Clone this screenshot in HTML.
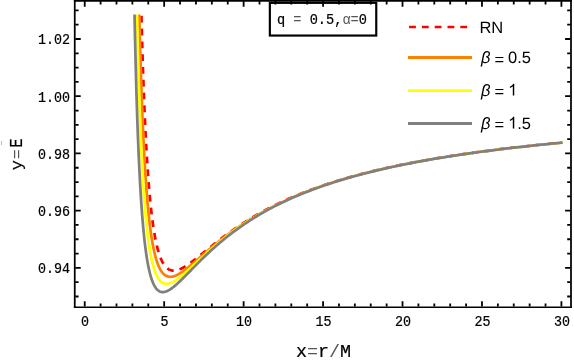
<!DOCTYPE html>
<html><head><meta charset="utf-8"><title>plot</title>
<style>
html,body{margin:0;padding:0;background:#fff;}
body{width:574px;height:360px;overflow:hidden;}
svg{display:block;will-change:transform;}
.m{font-family:"Liberation Mono",monospace;font-size:14.6px;fill:#000;stroke:#000;stroke-width:0.22px;}
.s{font-family:"Liberation Sans",sans-serif;font-size:16.5px;fill:#000;text-rendering:geometricPrecision;}
.a{font-family:"Liberation Mono",monospace;font-size:18.4px;fill:#000;stroke:#000;stroke-width:0.2px;}
.g{fill:#555;stroke:none;}
</style></head><body>
<svg width="574" height="360" viewBox="0 0 574 360">
<rect width="574" height="360" fill="#fff"/>
<path d="M141.39 14.55 L141.42 15.83 L141.45 17.06 L141.48 18.28 L141.51 19.50 L141.54 20.71 L141.58 21.92 L141.61 23.11 L141.64 24.30 L141.67 25.49 L141.70 26.66 L141.73 27.83 L141.76 29.00 L141.79 30.16 L141.82 31.31 L141.86 32.45 L141.89 33.59 L141.92 34.72 L141.95 35.85 L141.98 36.97 L142.01 38.08 L142.04 39.19 L142.07 40.29 L142.11 41.39 L142.14 42.48 L142.17 43.56 L142.20 44.64 L142.23 45.71 L142.26 46.78 L142.29 47.84 L142.32 48.89 L142.35 49.94 L142.39 50.98 L142.42 52.02 L142.45 53.05 L142.48 54.08 L142.51 55.10 L142.54 56.12 L142.57 57.13 L142.60 58.13 L142.64 59.13 L142.67 60.13 L142.70 61.11 L142.73 62.10 L142.76 63.08 L142.79 64.05 L142.82 65.02 L142.85 65.98 L142.89 66.94 L142.92 67.89 L142.95 68.84 L142.98 69.78 L143.01 70.72 L143.04 71.65 L143.07 72.58 L143.10 73.51 L143.13 74.42 L143.17 75.34 L143.20 76.25 L143.23 77.15 L143.26 78.05 L143.29 78.95 L143.32 79.84 L143.35 80.72 L143.38 81.60 L143.42 82.48 L143.45 83.35 L143.48 84.22 L143.51 85.08 L143.54 85.94 L143.57 86.80 L143.60 87.65 L143.63 88.49 L143.66 89.34 L143.70 90.17 L143.73 91.01 L143.76 91.83 L143.79 92.66 L143.82 93.48 L143.85 94.30 L143.88 95.11 L143.91 95.92 L143.95 96.72 L143.98 97.52 L144.01 98.32 L144.04 99.11 L144.07 99.90 L144.10 100.68 L144.13 101.46 L144.16 102.24 L144.19 103.01 L144.23 103.78 L144.26 104.54 L144.29 105.30 L144.32 106.06 L144.35 106.81 L144.38 107.56 L144.41 108.31 L144.44 109.05 L144.48 109.79 L144.51 110.53 L144.54 111.26 L144.57 111.99 L144.60 112.71 L144.63 113.43 L144.66 114.15 L144.69 114.86 L144.72 115.57 L144.76 116.28 L144.79 116.98 L144.82 117.68 L144.88 119.07 L144.94 120.45 L145.01 121.81 L145.07 123.16 L145.13 124.50 L145.19 125.82 L145.25 127.13 L145.32 128.43 L145.38 129.72 L145.44 130.99 L145.50 132.25 L145.57 133.50 L145.63 134.74 L145.69 135.97 L145.75 137.18 L145.82 138.39 L145.88 139.58 L145.94 140.76 L146.00 141.93 L146.07 143.09 L146.13 144.24 L146.19 145.37 L146.25 146.50 L146.31 147.62 L146.38 148.72 L146.44 149.82 L146.50 150.91 L146.56 151.98 L146.63 153.05 L146.69 154.10 L146.75 155.15 L146.81 156.19 L146.88 157.21 L146.94 158.23 L147.00 159.24 L147.06 160.24 L147.13 161.23 L147.19 162.21 L147.25 163.19 L147.31 164.15 L147.38 165.11 L147.44 166.05 L147.50 166.99 L147.56 167.92 L147.62 168.84 L147.69 169.76 L147.75 170.66 L147.81 171.56 L147.87 172.45 L147.94 173.33 L148.00 174.20 L148.06 175.07 L148.12 175.93 L148.19 176.78 L148.25 177.62 L148.31 178.45 L148.37 179.28 L148.44 180.10 L148.50 180.92 L148.56 181.72 L148.62 182.52 L148.68 183.32 L148.75 184.10 L148.81 184.88 L148.87 185.65 L148.93 186.42 L149.00 187.17 L149.06 187.93 L149.12 188.67 L149.18 189.41 L149.25 190.14 L149.31 190.87 L149.37 191.59 L149.43 192.30 L149.50 193.01 L149.56 193.71 L149.65 194.75 L149.74 195.78 L149.84 196.79 L149.93 197.80 L150.03 198.78 L150.12 199.76 L150.21 200.72 L150.31 201.67 L150.40 202.61 L150.49 203.54 L150.59 204.46 L150.68 205.36 L150.77 206.25 L150.87 207.13 L150.96 208.00 L151.05 208.86 L151.15 209.71 L151.24 210.55 L151.34 211.37 L151.43 212.19 L151.52 213.00 L151.62 213.79 L151.71 214.58 L151.80 215.35 L151.90 216.12 L151.99 216.88 L152.08 217.62 L152.18 218.36 L152.27 219.09 L152.36 219.81 L152.46 220.52 L152.55 221.22 L152.68 222.15 L152.80 223.05 L152.93 223.95 L153.05 224.82 L153.17 225.69 L153.30 226.54 L153.42 227.37 L153.55 228.19 L153.67 229.00 L153.80 229.79 L153.92 230.57 L154.05 231.34 L154.17 232.10 L154.30 232.84 L154.42 233.57 L154.55 234.29 L154.67 235.00 L154.80 235.69 L154.95 236.55 L155.11 237.38 L155.26 238.20 L155.42 239.00 L155.58 239.79 L155.73 240.56 L155.89 241.31 L156.04 242.05 L156.20 242.77 L156.36 243.48 L156.51 244.17 L156.70 244.98 L156.89 245.77 L157.07 246.55 L157.26 247.30 L157.45 248.04 L157.63 248.75 L157.82 249.45 L158.01 250.13 L158.23 250.90 L158.44 251.65 L158.66 252.38 L158.88 253.09 L159.10 253.77 L159.35 254.53 L159.60 255.26 L159.85 255.97 L160.10 256.65 L160.35 257.31 L160.63 258.02 L160.91 258.71 L161.19 259.36 L161.50 260.06 L161.81 260.73 L162.12 261.37 L162.47 262.04 L162.81 262.67 L163.18 263.32 L163.56 263.94 L163.96 264.56 L164.37 265.15 L164.81 265.73 L165.27 266.32 L165.74 266.85 L166.24 267.37 L166.77 267.87 L167.33 268.35 L167.89 268.77 L168.48 269.16 L169.11 269.51 L169.76 269.82 L170.42 270.07 L171.10 270.27 L171.79 270.43 L172.51 270.53 L173.22 270.58 L173.94 270.59 L174.66 270.54 L175.38 270.46 L176.09 270.34 L176.78 270.19 L177.46 270.01 L178.15 269.80 L178.84 269.56 L179.49 269.31 L180.15 269.04 L180.80 268.75 L181.46 268.44 L182.11 268.11 L182.73 267.79 L183.36 267.45 L183.98 267.09 L184.61 266.73 L185.23 266.35 L185.85 265.96 L186.44 265.59 L187.04 265.20 L187.63 264.81 L188.22 264.40 L188.81 264.00 L189.41 263.58 L190.00 263.16 L190.59 262.73 L191.18 262.30 L191.78 261.87 L192.37 261.43 L192.93 261.00 L193.49 260.58 L194.05 260.15 L194.61 259.72 L195.18 259.29 L195.74 258.85 L196.30 258.41 L196.86 257.97 L197.42 257.53 L197.98 257.08 L198.54 256.64 L199.10 256.19 L199.67 255.74 L200.23 255.29 L200.79 254.84 L201.35 254.39 L201.91 253.94 L202.47 253.49 L203.03 253.03 L203.59 252.58 L204.16 252.13 L204.72 251.67 L205.28 251.22 L205.84 250.77 L206.40 250.31 L206.96 249.86 L207.52 249.41 L208.08 248.96 L208.65 248.50 L209.21 248.05 L209.77 247.60 L210.33 247.15 L210.89 246.71 L211.45 246.26 L212.37 245.53 L213.07 244.97 L213.77 244.42 L214.47 243.86 L215.17 243.31 L215.87 242.76 L216.57 242.22 L217.27 241.67 L217.98 241.13 L218.68 240.59 L219.38 240.05 L220.08 239.51 L220.78 238.98 L221.48 238.45 L222.18 237.92 L222.88 237.39 L223.58 236.86 L224.28 236.34 L224.98 235.82 L225.68 235.30 L226.38 234.79 L227.08 234.28 L227.78 233.77 L228.48 233.26 L229.18 232.75 L229.88 232.25 L230.59 231.75 L231.29 231.25 L231.99 230.76 L232.69 230.27 L233.39 229.78 L234.09 229.29 L234.79 228.81 L235.49 228.33 L236.19 227.85 L236.89 227.37 L237.59 226.90 L238.29 226.43 L238.99 225.96 L239.69 225.49 L240.39 225.03 L241.09 224.57 L241.79 224.11 L242.49 223.65 L243.20 223.20 L243.90 222.75 L244.60 222.30 L245.30 221.86 L246.00 221.42 L246.70 220.98 L247.40 220.54 L248.10 220.10 L248.80 219.67 L249.50 219.24 L250.20 218.81 L250.90 218.39 L251.60 217.97 L252.30 217.55 L253.00 217.13 L253.70 216.72 L254.40 216.30 L255.10 215.89 L255.81 215.48 L256.51 215.08 L257.21 214.68 L257.91 214.28 L258.61 213.88 L259.31 213.48 L262.81 211.54 L267.01 209.28 L271.22 207.09 L275.42 204.99 L279.62 202.95 L283.83 200.99 L288.03 199.09 L292.23 197.25 L296.44 195.47 L300.64 193.75 L304.84 192.09 L309.05 190.48 L313.25 188.92 L317.45 187.40 L321.66 185.94 L325.86 184.52 L330.06 183.14 L334.27 181.80 L338.47 180.51 L342.67 179.24 L346.88 178.02 L351.08 176.83 L355.29 175.67 L359.49 174.55 L363.69 173.45 L367.90 172.39 L372.10 171.35 L376.30 170.34 L380.51 169.36 L384.71 168.40 L388.91 167.47 L393.12 166.56 L397.32 165.67 L401.52 164.81 L405.73 163.96 L409.93 163.14 L414.13 162.33 L418.34 161.54 L422.54 160.78 L426.74 160.03 L430.95 159.29 L435.15 158.58 L439.35 157.88 L443.56 157.19 L447.76 156.52 L451.96 155.86 L456.17 155.22 L460.37 154.59 L464.57 153.98 L468.78 153.37 L472.98 152.78 L477.18 152.21 L481.39 151.64 L485.59 151.08 L489.79 150.54 L494.00 150.00 L498.20 149.48 L502.40 148.97 L506.61 148.46 L510.81 147.97 L515.01 147.48 L519.22 147.01 L523.42 146.54 L527.62 146.08 L531.83 145.63 L536.03 145.19 L540.23 144.75 L544.44 144.32 L548.64 143.90 L552.84 143.49 L557.05 143.09 L561.25 142.69" fill="none" stroke="#ff0000" stroke-width="2.75" stroke-linejoin="round" stroke-dasharray="6.8 6" stroke-dashoffset="-1.3"/>
<path d="M139.28 14.55 L139.30 15.33 L139.33 16.65 L139.36 17.96 L139.39 19.26 L139.42 20.55 L139.46 21.84 L139.49 23.12 L139.52 24.39 L139.55 25.65 L139.58 26.91 L139.61 28.15 L139.64 29.40 L139.67 30.63 L139.70 31.86 L139.74 33.08 L139.77 34.29 L139.80 35.50 L139.83 36.70 L139.86 37.89 L139.89 39.07 L139.92 40.25 L139.95 41.42 L139.99 42.59 L140.02 43.75 L140.05 44.90 L140.08 46.05 L140.11 47.19 L140.14 48.32 L140.17 49.45 L140.20 50.57 L140.23 51.68 L140.27 52.79 L140.30 53.89 L140.33 54.98 L140.36 56.07 L140.39 57.16 L140.42 58.23 L140.45 59.30 L140.48 60.37 L140.52 61.43 L140.55 62.48 L140.58 63.53 L140.61 64.57 L140.64 65.61 L140.67 66.64 L140.70 67.66 L140.73 68.68 L140.76 69.69 L140.80 70.70 L140.83 71.70 L140.86 72.70 L140.89 73.69 L140.92 74.68 L140.95 75.66 L140.98 76.64 L141.01 77.61 L141.05 78.57 L141.08 79.53 L141.11 80.49 L141.14 81.43 L141.17 82.38 L141.20 83.32 L141.23 84.25 L141.26 85.18 L141.29 86.11 L141.33 87.03 L141.36 87.94 L141.39 88.85 L141.42 89.76 L141.45 90.66 L141.48 91.55 L141.51 92.44 L141.54 93.33 L141.58 94.21 L141.61 95.08 L141.64 95.96 L141.67 96.82 L141.70 97.69 L141.73 98.54 L141.76 99.40 L141.79 100.25 L141.82 101.09 L141.86 101.93 L141.89 102.77 L141.92 103.60 L141.95 104.43 L141.98 105.25 L142.01 106.07 L142.04 106.88 L142.07 107.70 L142.11 108.50 L142.14 109.30 L142.17 110.10 L142.20 110.90 L142.23 111.68 L142.26 112.47 L142.29 113.25 L142.32 114.03 L142.35 114.80 L142.39 115.57 L142.42 116.34 L142.45 117.10 L142.48 117.86 L142.51 118.61 L142.54 119.36 L142.57 120.11 L142.60 120.85 L142.64 121.59 L142.67 122.33 L142.70 123.06 L142.73 123.79 L142.76 124.51 L142.79 125.23 L142.82 125.95 L142.85 126.66 L142.89 127.37 L142.92 128.08 L142.95 128.78 L143.01 130.18 L143.07 131.56 L143.13 132.92 L143.20 134.28 L143.26 135.62 L143.32 136.94 L143.38 138.26 L143.45 139.56 L143.51 140.85 L143.57 142.12 L143.63 143.39 L143.70 144.64 L143.76 145.88 L143.82 147.10 L143.88 148.32 L143.95 149.52 L144.01 150.71 L144.07 151.89 L144.13 153.06 L144.19 154.22 L144.26 155.37 L144.32 156.50 L144.38 157.63 L144.44 158.74 L144.51 159.84 L144.57 160.94 L144.63 162.02 L144.69 163.09 L144.76 164.15 L144.82 165.21 L144.88 166.25 L144.94 167.28 L145.01 168.30 L145.07 169.32 L145.13 170.32 L145.19 171.31 L145.25 172.30 L145.32 173.27 L145.38 174.24 L145.44 175.20 L145.50 176.15 L145.57 177.09 L145.63 178.02 L145.69 178.94 L145.75 179.86 L145.82 180.76 L145.88 181.66 L145.94 182.55 L146.00 183.43 L146.07 184.30 L146.13 185.17 L146.19 186.03 L146.25 186.88 L146.31 187.72 L146.38 188.55 L146.44 189.38 L146.50 190.20 L146.56 191.01 L146.63 191.81 L146.69 192.61 L146.75 193.40 L146.81 194.18 L146.88 194.96 L146.94 195.73 L147.00 196.49 L147.06 197.24 L147.13 197.99 L147.19 198.73 L147.25 199.47 L147.31 200.20 L147.38 200.92 L147.44 201.63 L147.50 202.34 L147.56 203.05 L147.66 204.09 L147.75 205.12 L147.84 206.13 L147.94 207.13 L148.03 208.12 L148.12 209.10 L148.22 210.06 L148.31 211.01 L148.40 211.94 L148.50 212.87 L148.59 213.78 L148.68 214.68 L148.78 215.57 L148.87 216.45 L148.97 217.31 L149.06 218.17 L149.15 219.01 L149.25 219.84 L149.34 220.67 L149.43 221.48 L149.53 222.28 L149.62 223.07 L149.71 223.85 L149.81 224.62 L149.90 225.38 L149.99 226.13 L150.09 226.87 L150.18 227.60 L150.27 228.32 L150.37 229.03 L150.46 229.73 L150.59 230.65 L150.71 231.56 L150.84 232.45 L150.96 233.33 L151.09 234.19 L151.21 235.03 L151.34 235.87 L151.46 236.68 L151.58 237.49 L151.71 238.28 L151.83 239.05 L151.96 239.82 L152.08 240.57 L152.21 241.30 L152.33 242.03 L152.46 242.74 L152.58 243.44 L152.74 244.30 L152.89 245.14 L153.05 245.96 L153.21 246.76 L153.36 247.55 L153.52 248.32 L153.67 249.07 L153.83 249.81 L153.99 250.53 L154.14 251.24 L154.30 251.93 L154.48 252.74 L154.67 253.52 L154.86 254.29 L155.05 255.04 L155.23 255.77 L155.42 256.48 L155.61 257.17 L155.83 257.95 L156.04 258.71 L156.26 259.44 L156.48 260.15 L156.70 260.84 L156.92 261.51 L157.17 262.25 L157.42 262.96 L157.66 263.64 L157.91 264.30 L158.19 265.02 L158.48 265.70 L158.76 266.36 L159.07 267.05 L159.38 267.71 L159.69 268.34 L160.03 269.00 L160.38 269.62 L160.75 270.26 L161.13 270.86 L161.53 271.47 L161.97 272.07 L162.40 272.63 L162.87 273.18 L163.37 273.71 L163.90 274.22 L164.46 274.70 L165.02 275.12 L165.62 275.51 L166.24 275.85 L166.89 276.15 L167.58 276.39 L168.27 276.57 L168.98 276.70 L169.70 276.77 L170.42 276.78 L171.13 276.75 L171.85 276.66 L172.57 276.54 L173.26 276.38 L173.94 276.18 L174.63 275.96 L175.31 275.70 L175.97 275.43 L176.62 275.14 L177.28 274.82 L177.90 274.50 L178.52 274.17 L179.15 273.81 L179.77 273.45 L180.40 273.06 L180.99 272.69 L181.58 272.30 L182.17 271.90 L182.77 271.49 L183.36 271.08 L183.95 270.65 L184.54 270.22 L185.14 269.78 L185.70 269.35 L186.26 268.92 L186.82 268.49 L187.38 268.04 L187.94 267.60 L188.50 267.15 L189.06 266.70 L189.63 266.24 L190.19 265.78 L190.75 265.31 L191.31 264.85 L191.87 264.38 L192.43 263.90 L192.99 263.43 L193.55 262.95 L194.12 262.48 L194.68 262.00 L195.24 261.52 L195.80 261.03 L196.36 260.55 L196.89 260.09 L197.42 259.63 L197.95 259.18 L198.48 258.72 L199.01 258.26 L199.54 257.80 L200.07 257.34 L200.60 256.88 L201.13 256.42 L201.66 255.96 L202.19 255.50 L202.72 255.04 L203.25 254.59 L203.78 254.13 L204.34 253.64 L204.90 253.16 L205.47 252.68 L206.03 252.20 L206.59 251.72 L207.15 251.24 L207.71 250.76 L208.27 250.28 L208.83 249.80 L209.39 249.33 L209.96 248.85 L210.52 248.38 L211.08 247.91 L211.64 247.44 L212.37 246.83 L213.08 246.24 L213.78 245.66 L214.48 245.08 L215.19 244.50 L215.89 243.93 L216.59 243.35 L217.30 242.78 L218.00 242.22 L218.70 241.65 L219.41 241.09 L220.11 240.53 L220.81 239.98 L221.52 239.42 L222.22 238.87 L222.92 238.32 L223.63 237.78 L224.33 237.24 L225.03 236.70 L225.74 236.16 L226.44 235.63 L227.14 235.10 L227.85 234.57 L228.55 234.05 L229.25 233.52 L229.95 233.01 L230.66 232.49 L231.36 231.98 L232.06 231.47 L232.77 230.96 L233.47 230.46 L234.17 229.96 L234.88 229.46 L235.58 228.96 L236.28 228.47 L236.99 227.98 L237.69 227.50 L238.39 227.01 L239.10 226.53 L239.80 226.05 L240.50 225.58 L241.21 225.11 L241.91 224.64 L242.61 224.17 L243.32 223.71 L244.02 223.25 L244.72 222.79 L245.43 222.34 L246.13 221.88 L246.83 221.43 L247.54 220.99 L248.24 220.54 L248.94 220.10 L249.65 219.66 L250.35 219.23 L251.05 218.79" fill="none" stroke="#ff8000" stroke-width="2.75" stroke-linejoin="round"/>
<path d="M248.94 220.10 L249.65 219.66 L250.35 219.23 L251.05 218.79 L251.76 218.36 L252.46 217.93 L253.16 217.51 L253.87 217.09 L254.57 216.67 L255.27 216.25 L255.98 215.83 L256.68 215.42 L257.38 215.01 L258.09 214.60 L258.79 214.20 L259.49 213.79 L263.01 211.82 L266.52 209.90 L270.74 207.67 L274.96 205.52 L279.18 203.45 L283.40 201.45 L287.62 199.52 L291.84 197.65 L296.06 195.84 L300.28 194.10 L304.50 192.41 L308.72 190.78 L312.94 189.20 L317.16 187.67 L321.38 186.18 L325.60 184.75 L329.82 183.35 L334.04 182.00 L338.26 180.69 L342.48 179.41 L346.70 178.18 L350.92 176.98 L355.14 175.81 L359.36 174.67 L363.58 173.57 L367.80 172.50 L372.02 171.45 L376.23 170.43 L380.45 169.44 L384.67 168.48 L388.89 167.54 L393.11 166.62 L397.33 165.73 L401.55 164.86 L405.77 164.01 L409.99 163.18 L414.21 162.37 L418.43 161.58 L422.65 160.80 L426.87 160.05 L431.09 159.31 L435.31 158.59 L439.53 157.89 L443.75 157.20 L447.97 156.52 L452.19 155.86 L456.41 155.22 L460.63 154.59 L464.85 153.97 L469.07 153.36 L473.29 152.77 L477.51 152.19 L481.72 151.62 L485.94 151.06 L490.16 150.52 L494.38 149.98 L498.60 149.45 L502.82 148.94 L507.04 148.43 L511.26 147.94 L515.48 147.45 L519.70 146.97 L523.92 146.50 L528.14 146.04 L532.36 145.59 L536.58 145.15 L540.80 144.71 L545.02 144.28 L549.24 143.86 L553.46 143.45 L557.68 143.04 L561.90 142.64 L562.60 142.58" fill="none" stroke="#ff8000" stroke-width="2.3" stroke-linejoin="round"/>
<path d="M137.01 14.55 L137.05 16.42 L137.09 17.82 L137.12 19.22 L137.15 20.61 L137.18 21.99 L137.21 23.37 L137.24 24.73 L137.27 26.09 L137.30 27.43 L137.33 28.77 L137.37 30.10 L137.40 31.43 L137.43 32.74 L137.46 34.05 L137.49 35.35 L137.52 36.64 L137.55 37.92 L137.58 39.20 L137.62 40.47 L137.65 41.73 L137.68 42.98 L137.71 44.23 L137.74 45.47 L137.77 46.70 L137.80 47.92 L137.83 49.14 L137.86 50.35 L137.90 51.55 L137.93 52.75 L137.96 53.94 L137.99 55.12 L138.02 56.29 L138.05 57.46 L138.08 58.62 L138.11 59.78 L138.15 60.92 L138.18 62.06 L138.21 63.20 L138.24 64.33 L138.27 65.45 L138.30 66.56 L138.33 67.67 L138.36 68.77 L138.40 69.87 L138.43 70.96 L138.46 72.04 L138.49 73.12 L138.52 74.19 L138.55 75.25 L138.58 76.31 L138.61 77.36 L138.64 78.41 L138.68 79.45 L138.71 80.48 L138.74 81.51 L138.77 82.54 L138.80 83.55 L138.83 84.57 L138.86 85.57 L138.89 86.57 L138.93 87.57 L138.96 88.56 L138.99 89.54 L139.02 90.52 L139.05 91.49 L139.08 92.46 L139.11 93.42 L139.14 94.38 L139.17 95.33 L139.21 96.28 L139.24 97.22 L139.27 98.15 L139.30 99.08 L139.33 100.01 L139.36 100.93 L139.39 101.84 L139.42 102.76 L139.46 103.66 L139.49 104.56 L139.52 105.46 L139.55 106.35 L139.58 107.23 L139.61 108.11 L139.64 108.99 L139.67 109.86 L139.70 110.73 L139.74 111.59 L139.77 112.45 L139.80 113.30 L139.83 114.15 L139.86 114.99 L139.89 115.83 L139.92 116.67 L139.95 117.50 L139.99 118.33 L140.02 119.15 L140.05 119.96 L140.08 120.78 L140.11 121.59 L140.14 122.39 L140.17 123.19 L140.20 123.98 L140.23 124.78 L140.27 125.56 L140.30 126.35 L140.33 127.13 L140.36 127.90 L140.39 128.67 L140.42 129.44 L140.45 130.20 L140.48 130.96 L140.52 131.71 L140.55 132.47 L140.58 133.21 L140.61 133.96 L140.64 134.69 L140.67 135.43 L140.70 136.16 L140.73 136.89 L140.76 137.61 L140.80 138.33 L140.83 139.05 L140.86 139.76 L140.89 140.47 L140.92 141.18 L140.95 141.88 L141.01 143.27 L141.08 144.65 L141.14 146.01 L141.20 147.37 L141.26 148.70 L141.33 150.03 L141.39 151.34 L141.45 152.63 L141.51 153.92 L141.58 155.19 L141.64 156.44 L141.70 157.69 L141.76 158.92 L141.82 160.14 L141.89 161.35 L141.95 162.55 L142.01 163.73 L142.07 164.90 L142.14 166.06 L142.20 167.21 L142.26 168.35 L142.32 169.48 L142.39 170.59 L142.45 171.70 L142.51 172.79 L142.57 173.88 L142.64 174.95 L142.70 176.01 L142.76 177.06 L142.82 178.10 L142.89 179.14 L142.95 180.16 L143.01 181.17 L143.07 182.17 L143.13 183.16 L143.20 184.15 L143.26 185.12 L143.32 186.08 L143.38 187.04 L143.45 187.98 L143.51 188.92 L143.57 189.85 L143.63 190.77 L143.70 191.68 L143.76 192.58 L143.82 193.47 L143.88 194.35 L143.95 195.23 L144.01 196.10 L144.07 196.96 L144.13 197.81 L144.19 198.65 L144.26 199.49 L144.32 200.32 L144.38 201.14 L144.44 201.95 L144.51 202.75 L144.57 203.55 L144.63 204.34 L144.69 205.12 L144.76 205.90 L144.82 206.66 L144.88 207.42 L144.94 208.18 L145.01 208.92 L145.07 209.66 L145.13 210.40 L145.19 211.12 L145.25 211.84 L145.32 212.55 L145.38 213.26 L145.44 213.96 L145.54 215.00 L145.63 216.02 L145.72 217.03 L145.82 218.02 L145.91 219.01 L146.00 219.97 L146.10 220.93 L146.19 221.87 L146.28 222.80 L146.38 223.71 L146.47 224.62 L146.56 225.51 L146.66 226.39 L146.75 227.26 L146.85 228.11 L146.94 228.96 L147.03 229.79 L147.13 230.61 L147.22 231.42 L147.31 232.22 L147.41 233.01 L147.50 233.79 L147.59 234.55 L147.69 235.31 L147.78 236.06 L147.87 236.79 L147.97 237.52 L148.06 238.24 L148.15 238.94 L148.25 239.64 L148.37 240.56 L148.50 241.46 L148.62 242.34 L148.75 243.21 L148.87 244.06 L149.00 244.90 L149.12 245.72 L149.25 246.53 L149.37 247.32 L149.50 248.10 L149.62 248.86 L149.74 249.61 L149.87 250.35 L149.99 251.08 L150.12 251.79 L150.24 252.49 L150.40 253.34 L150.56 254.18 L150.71 255.00 L150.87 255.80 L151.02 256.58 L151.18 257.34 L151.34 258.09 L151.49 258.82 L151.65 259.53 L151.80 260.23 L151.99 261.05 L152.18 261.84 L152.36 262.61 L152.55 263.36 L152.74 264.09 L152.93 264.80 L153.11 265.49 L153.33 266.28 L153.55 267.03 L153.77 267.76 L153.99 268.47 L154.20 269.16 L154.45 269.91 L154.70 270.64 L154.95 271.33 L155.20 272.00 L155.48 272.73 L155.76 273.42 L156.04 274.08 L156.36 274.78 L156.67 275.44 L156.98 276.07 L157.32 276.73 L157.66 277.34 L158.04 277.97 L158.44 278.61 L158.85 279.20 L159.29 279.78 L159.75 280.36 L160.25 280.91 L160.75 281.40 L161.28 281.87 L161.84 282.30 L162.44 282.69 L163.06 283.03 L163.71 283.32 L164.40 283.55 L165.09 283.72 L165.80 283.82 L166.52 283.86 L167.24 283.84 L167.95 283.77 L168.67 283.65 L169.36 283.49 L170.04 283.28 L170.73 283.05 L171.38 282.79 L172.04 282.50 L172.69 282.19 L173.32 281.87 L173.94 281.52 L174.56 281.16 L175.19 280.78 L175.78 280.40 L176.37 280.01 L176.97 279.60 L177.56 279.18 L178.15 278.75 L178.71 278.33 L179.27 277.90 L179.83 277.47 L180.40 277.02 L180.96 276.57 L181.52 276.11 L182.08 275.65 L182.64 275.17 L183.20 274.70 L183.76 274.21 L184.29 273.75 L184.82 273.29 L185.35 272.82 L185.88 272.35 L186.41 271.88 L186.94 271.40 L187.47 270.92 L188.00 270.44 L188.53 269.95 L189.06 269.47 L189.59 268.98 L190.12 268.49 L190.65 268.00 L191.18 267.51 L191.71 267.01 L192.24 266.52 L192.77 266.03 L193.30 265.53 L193.83 265.03 L194.36 264.54 L194.89 264.04 L195.42 263.55 L195.95 263.05 L196.48 262.55 L197.02 262.06 L197.55 261.56 L198.08 261.07 L198.61 260.57 L199.14 260.08 L199.67 259.58 L200.20 259.09 L200.73 258.60 L201.26 258.11 L201.79 257.62 L202.32 257.13 L202.85 256.64 L203.38 256.15 L203.91 255.67 L204.44 255.18 L204.97 254.70 L205.50 254.22 L206.03 253.73 L206.56 253.26 L207.09 252.78 L207.62 252.30 L208.15 251.83 L208.68 251.35 L209.21 250.88 L209.74 250.41 L210.27 249.94 L210.80 249.47 L211.33 249.01 L212.37 248.09 L213.08 247.48 L213.78 246.88 L214.48 246.27 L215.19 245.67 L215.89 245.07 L216.59 244.48 L217.30 243.89 L218.00 243.30 L218.70 242.71 L219.41 242.13 L220.11 241.55 L220.81 240.98 L221.52 240.40 L222.22 239.83 L222.92 239.27 L223.63 238.71 L224.33 238.15 L225.03 237.59 L225.74 237.04 L226.44 236.49 L227.14 235.95 L227.85 235.40 L228.55 234.86 L229.25 234.33 L229.95 233.80 L230.66 233.27 L231.36 232.74 L232.06 232.22 L232.77 231.70 L233.47 231.18 L234.17 230.67 L234.88 230.16 L235.58 229.65 L236.28 229.15 L236.99 228.65 L237.69 228.15 L238.39 227.66 L239.10 227.17 L239.80 226.68 L240.50 226.19 L241.21 225.71 L241.91 225.23 L242.61 224.76 L243.32 224.28 L244.02 223.82 L244.72 223.35 L245.43 222.88 L246.13 222.42 L246.83 221.97 L247.54 221.51 L248.24 221.06 L248.94 220.61 L249.65 220.16 L250.35 219.72 L251.05 219.28" fill="none" stroke="#ffff00" stroke-width="2.75" stroke-linejoin="round"/>
<path d="M248.94 220.61 L249.65 220.16 L250.35 219.72 L251.05 219.28 L251.76 218.84 L252.46 218.41 L253.16 217.97 L253.87 217.54 L254.57 217.12 L255.27 216.69 L255.98 216.27 L256.68 215.85 L257.38 215.44 L258.09 215.02 L258.79 214.61 L259.49 214.20 L263.01 212.20 L266.52 210.26 L270.74 208.00 L274.96 205.83 L279.18 203.73 L283.40 201.71 L287.62 199.76 L291.84 197.88 L296.06 196.06 L300.28 194.30 L304.50 192.60 L308.72 190.95 L312.94 189.36 L317.16 187.82 L321.38 186.33 L325.60 184.88 L329.82 183.48 L334.04 182.12 L338.26 180.80 L342.48 179.52 L346.70 178.28 L350.92 177.07 L355.14 175.90 L359.36 174.76 L363.58 173.65 L367.80 172.58 L372.02 171.53 L376.23 170.51 L380.45 169.51 L384.67 168.54 L388.89 167.60 L393.11 166.68 L397.33 165.79 L401.55 164.91 L405.77 164.06 L409.99 163.23 L414.21 162.42 L418.43 161.62 L422.65 160.85 L426.87 160.09 L431.09 159.35 L435.31 158.63 L439.53 157.92 L443.75 157.23 L447.97 156.56 L452.19 155.90 L456.41 155.25 L460.63 154.62 L464.85 154.00 L469.07 153.39 L473.29 152.80 L477.51 152.22 L481.72 151.65 L485.94 151.09 L490.16 150.54 L494.38 150.00 L498.60 149.48 L502.82 148.96 L507.04 148.46 L511.26 147.96 L515.48 147.47 L519.70 146.99 L523.92 146.52 L528.14 146.06 L532.36 145.61 L536.58 145.17 L540.80 144.73 L545.02 144.30 L549.24 143.88 L553.46 143.46 L557.68 143.06 L561.90 142.66 L562.60 142.59" fill="none" stroke="#ffff00" stroke-width="2.3" stroke-linejoin="round"/>
<path d="M134.54 14.55 L134.56 15.63 L134.59 17.16 L134.62 18.68 L134.65 20.19 L134.68 21.69 L134.72 23.18 L134.75 24.66 L134.78 26.13 L134.81 27.59 L134.84 29.04 L134.87 30.48 L134.90 31.91 L134.93 33.34 L134.97 34.75 L135.00 36.16 L135.03 37.55 L135.06 38.94 L135.09 40.32 L135.12 41.69 L135.15 43.05 L135.18 44.41 L135.21 45.75 L135.25 47.09 L135.28 48.42 L135.31 49.74 L135.34 51.05 L135.37 52.35 L135.40 53.65 L135.43 54.94 L135.46 56.21 L135.50 57.49 L135.53 58.75 L135.56 60.01 L135.59 61.26 L135.62 62.50 L135.65 63.73 L135.68 64.96 L135.71 66.17 L135.74 67.39 L135.78 68.59 L135.81 69.79 L135.84 70.97 L135.87 72.16 L135.90 73.33 L135.93 74.50 L135.96 75.66 L135.99 76.81 L136.03 77.96 L136.06 79.10 L136.09 80.24 L136.12 81.36 L136.15 82.48 L136.18 83.59 L136.21 84.70 L136.24 85.80 L136.27 86.90 L136.31 87.98 L136.34 89.06 L136.37 90.14 L136.40 91.21 L136.43 92.27 L136.46 93.32 L136.49 94.37 L136.52 95.42 L136.56 96.45 L136.59 97.49 L136.62 98.51 L136.65 99.53 L136.68 100.54 L136.71 101.55 L136.74 102.55 L136.77 103.55 L136.80 104.54 L136.84 105.53 L136.87 106.50 L136.90 107.48 L136.93 108.45 L136.96 109.41 L136.99 110.36 L137.02 111.32 L137.05 112.26 L137.09 113.20 L137.12 114.14 L137.15 115.07 L137.18 115.99 L137.21 116.91 L137.24 117.83 L137.27 118.74 L137.30 119.64 L137.33 120.54 L137.37 121.43 L137.40 122.32 L137.43 123.21 L137.46 124.08 L137.49 124.96 L137.52 125.83 L137.55 126.69 L137.58 127.55 L137.62 128.41 L137.65 129.26 L137.68 130.10 L137.71 130.94 L137.74 131.78 L137.77 132.61 L137.80 133.44 L137.83 134.26 L137.86 135.08 L137.90 135.89 L137.93 136.70 L137.96 137.50 L137.99 138.30 L138.02 139.10 L138.05 139.89 L138.08 140.68 L138.11 141.46 L138.15 142.24 L138.18 143.01 L138.21 143.78 L138.24 144.55 L138.27 145.31 L138.30 146.07 L138.33 146.82 L138.36 147.57 L138.40 148.31 L138.43 149.06 L138.46 149.79 L138.49 150.53 L138.52 151.26 L138.55 151.98 L138.58 152.70 L138.61 153.42 L138.64 154.14 L138.68 154.85 L138.71 155.55 L138.74 156.25 L138.80 157.65 L138.86 159.03 L138.93 160.39 L138.99 161.74 L139.05 163.08 L139.11 164.40 L139.17 165.71 L139.24 167.00 L139.30 168.29 L139.36 169.55 L139.42 170.81 L139.49 172.05 L139.55 173.28 L139.61 174.49 L139.67 175.70 L139.74 176.89 L139.80 178.07 L139.86 179.23 L139.92 180.39 L139.99 181.53 L140.05 182.66 L140.11 183.78 L140.17 184.89 L140.23 185.99 L140.30 187.07 L140.36 188.15 L140.42 189.21 L140.48 190.27 L140.55 191.31 L140.61 192.34 L140.67 193.36 L140.73 194.37 L140.80 195.38 L140.86 196.37 L140.92 197.35 L140.98 198.32 L141.05 199.28 L141.11 200.24 L141.17 201.18 L141.23 202.11 L141.29 203.04 L141.36 203.95 L141.42 204.86 L141.48 205.76 L141.54 206.65 L141.61 207.53 L141.67 208.40 L141.73 209.26 L141.79 210.11 L141.86 210.96 L141.92 211.80 L141.98 212.63 L142.04 213.45 L142.11 214.26 L142.17 215.07 L142.23 215.86 L142.29 216.65 L142.35 217.44 L142.42 218.21 L142.48 218.98 L142.54 219.74 L142.60 220.49 L142.67 221.23 L142.73 221.97 L142.79 222.70 L142.85 223.43 L142.92 224.14 L142.98 224.85 L143.04 225.56 L143.13 226.60 L143.23 227.63 L143.32 228.64 L143.42 229.64 L143.51 230.62 L143.60 231.59 L143.70 232.54 L143.79 233.49 L143.88 234.42 L143.98 235.33 L144.07 236.23 L144.16 237.12 L144.26 238.00 L144.35 238.86 L144.44 239.72 L144.54 240.56 L144.63 241.39 L144.72 242.20 L144.82 243.01 L144.91 243.80 L145.01 244.58 L145.10 245.36 L145.19 246.12 L145.29 246.87 L145.38 247.61 L145.47 248.33 L145.57 249.05 L145.66 249.76 L145.75 250.46 L145.88 251.38 L146.00 252.28 L146.13 253.16 L146.25 254.02 L146.38 254.87 L146.50 255.71 L146.63 256.52 L146.75 257.33 L146.88 258.11 L147.00 258.89 L147.13 259.65 L147.25 260.39 L147.38 261.12 L147.50 261.84 L147.62 262.54 L147.75 263.23 L147.91 264.07 L148.06 264.90 L148.22 265.70 L148.37 266.48 L148.53 267.25 L148.68 268.00 L148.84 268.73 L149.00 269.44 L149.15 270.14 L149.34 270.95 L149.53 271.74 L149.71 272.51 L149.90 273.26 L150.09 273.98 L150.27 274.68 L150.46 275.36 L150.68 276.13 L150.90 276.87 L151.12 277.59 L151.34 278.28 L151.55 278.95 L151.80 279.69 L152.05 280.39 L152.30 281.07 L152.58 281.79 L152.86 282.48 L153.14 283.14 L153.46 283.84 L153.77 284.50 L154.11 285.18 L154.45 285.81 L154.83 286.47 L155.20 287.07 L155.61 287.68 L156.04 288.27 L156.51 288.85 L156.98 289.38 L157.48 289.87 L158.01 290.34 L158.57 290.76 L159.16 291.13 L159.79 291.45 L160.44 291.71 L161.13 291.91 L161.84 292.03 L162.56 292.09 L163.28 292.07 L163.99 291.99 L164.71 291.86 L165.40 291.68 L166.08 291.46 L166.74 291.21 L167.39 290.92 L168.05 290.60 L168.67 290.27 L169.30 289.91 L169.92 289.53 L170.51 289.15 L171.10 288.75 L171.70 288.33 L172.29 287.90 L172.85 287.47 L173.41 287.03 L173.97 286.58 L174.53 286.12 L175.09 285.65 L175.66 285.17 L176.19 284.71 L176.72 284.24 L177.25 283.76 L177.78 283.28 L178.31 282.79 L178.84 282.30 L179.37 281.80 L179.90 281.30 L180.43 280.79 L180.96 280.28 L181.49 279.76 L182.02 279.24 L182.52 278.75 L183.01 278.26 L183.51 277.76 L184.01 277.26 L184.51 276.76 L185.01 276.26 L185.51 275.76 L186.01 275.25 L186.51 274.75 L187.01 274.24 L187.50 273.73 L188.00 273.23 L188.50 272.72 L189.00 272.21 L189.50 271.70 L190.00 271.19 L190.50 270.68 L191.00 270.17 L191.50 269.66 L191.99 269.15 L192.49 268.64 L192.99 268.14 L193.49 267.63 L193.99 267.12 L194.49 266.61 L194.99 266.11 L195.49 265.60 L195.99 265.10 L196.48 264.60 L196.98 264.10 L197.48 263.60 L197.98 263.10 L198.48 262.60 L198.98 262.10 L199.48 261.60 L199.98 261.11 L200.48 260.62 L200.97 260.12 L201.51 259.60 L202.04 259.08 L202.57 258.57 L203.10 258.05 L203.63 257.54 L204.16 257.02 L204.69 256.51 L205.22 256.01 L205.75 255.50 L206.28 254.99 L206.81 254.49 L207.34 253.99 L207.87 253.49 L208.40 252.99 L208.93 252.50 L209.46 252.01 L209.99 251.52 L210.52 251.03 L211.05 250.54 L211.58 250.06 L212.37 249.33 L213.08 248.70 L213.78 248.06 L214.48 247.44 L215.19 246.81 L215.89 246.19 L216.59 245.57 L217.30 244.96 L218.00 244.35 L218.70 243.75 L219.41 243.15 L220.11 242.55 L220.81 241.95 L221.52 241.36 L222.22 240.78 L222.92 240.19 L223.63 239.61 L224.33 239.04 L225.03 238.47 L225.74 237.90 L226.44 237.33 L227.14 236.77 L227.85 236.22 L228.55 235.66 L229.25 235.11 L229.95 234.57 L230.66 234.03 L231.36 233.49 L232.06 232.95 L232.77 232.42 L233.47 231.89 L234.17 231.37 L234.88 230.84 L235.58 230.33 L236.28 229.81 L236.99 229.30 L237.69 228.79 L238.39 228.29 L239.10 227.79 L239.80 227.29 L240.50 226.80 L241.21 226.30 L241.91 225.82 L242.61 225.33 L243.32 224.85 L244.02 224.37 L244.72 223.90 L245.43 223.42 L246.13 222.96 L246.83 222.49 L247.54 222.03 L248.24 221.57 L248.94 221.11 L249.65 220.66 L250.35 220.21 L251.05 219.76 L251.76 219.31 L252.46 218.87 L253.16 218.43 L253.87 218.00 L254.57 217.56 L255.27 217.13 L255.98 216.70 L256.68 216.28 L257.38 215.86 L258.09 215.44 L258.79 215.02 L259.49 214.61 L263.01 212.57 L266.52 210.61 L270.74 208.33 L274.96 206.13 L279.18 204.01 L283.40 201.97 L287.62 200.00 L291.84 198.10 L296.06 196.27 L300.28 194.50 L304.50 192.78 L308.72 191.13 L312.94 189.52 L317.16 187.97 L321.38 186.47 L325.60 185.02 L329.82 183.61 L334.04 182.24 L338.26 180.92 L342.48 179.63 L346.70 178.38 L350.92 177.17 L355.14 176.00 L359.36 174.85 L363.58 173.74 L367.80 172.66 L372.02 171.60 L376.23 170.58 L380.45 169.58 L384.67 168.61 L388.89 167.67 L393.11 166.74 L397.33 165.84 L401.55 164.97 L405.77 164.11 L409.99 163.28 L414.21 162.46 L418.43 161.67 L422.65 160.89 L426.87 160.14 L431.09 159.39 L435.31 158.67 L439.53 157.96 L443.75 157.27 L447.97 156.59 L452.19 155.93 L456.41 155.29 L460.63 154.65 L464.85 154.03 L469.07 153.42 L473.29 152.83 L477.51 152.25 L481.72 151.67 L485.94 151.12 L490.16 150.57 L494.38 150.03 L498.60 149.50 L502.82 148.99 L507.04 148.48 L511.26 147.98 L515.48 147.49 L519.70 147.01 L523.92 146.54 L528.14 146.08 L532.36 145.63 L536.58 145.18 L540.80 144.75 L545.02 144.32 L549.24 143.89 L553.46 143.48 L557.68 143.07 L561.90 142.67 L562.60 142.61" fill="none" stroke="#808080" stroke-width="2.75" stroke-linejoin="round"/>
<path d="M73.88 0.8H571.88" stroke="#000" stroke-width="1.7" fill="none"/><path d="M73.88 307.15H571.88" stroke="#000" stroke-width="1.55" fill="none"/><path d="M74.75 0V307.9" stroke="#000" stroke-width="1.75" fill="none"/><path d="M571.00 0V307.9" stroke="#000" stroke-width="1.75" fill="none"/>
<path d="M84.72 306.45 V301.30 M84.72 1.10 V6.80 M100.61 306.45 V303.50 M100.61 1.10 V4.40 M116.50 306.45 V303.50 M116.50 1.10 V4.40 M132.39 306.45 V303.50 M132.39 1.10 V4.40 M148.28 306.45 V303.50 M148.28 1.10 V4.40 M164.17 306.45 V301.30 M164.17 1.10 V6.80 M180.06 306.45 V303.50 M180.06 1.10 V4.40 M195.95 306.45 V303.50 M195.95 1.10 V4.40 M211.84 306.45 V303.50 M211.84 1.10 V4.40 M227.73 306.45 V303.50 M227.73 1.10 V4.40 M243.62 306.45 V301.30 M243.62 1.10 V6.80 M259.51 306.45 V303.50 M259.51 1.10 V4.40 M275.40 306.45 V303.50 M275.40 1.10 V4.40 M291.29 306.45 V303.50 M291.29 1.10 V4.40 M307.18 306.45 V303.50 M307.18 1.10 V4.40 M323.07 306.45 V301.30 M323.07 1.10 V6.80 M338.96 306.45 V303.50 M338.96 1.10 V4.40 M354.85 306.45 V303.50 M354.85 1.10 V4.40 M370.74 306.45 V303.50 M370.74 1.10 V4.40 M386.63 306.45 V303.50 M386.63 1.10 V4.40 M402.52 306.45 V301.30 M402.52 1.10 V6.80 M418.41 306.45 V303.50 M418.41 1.10 V4.40 M434.30 306.45 V303.50 M434.30 1.10 V4.40 M450.19 306.45 V303.50 M450.19 1.10 V4.40 M466.08 306.45 V303.50 M466.08 1.10 V4.40 M481.97 306.45 V301.30 M481.97 1.10 V6.80 M497.86 306.45 V303.50 M497.86 1.10 V4.40 M513.75 306.45 V303.50 M513.75 1.10 V4.40 M529.64 306.45 V303.50 M529.64 1.10 V4.40 M545.53 306.45 V303.50 M545.53 1.10 V4.40 M561.42 306.45 V301.30 M561.42 1.10 V6.80 M75.25 296.49 H78.60 M570.50 296.49 H567.20 M75.25 282.18 H78.60 M570.50 282.18 H567.20 M75.25 267.88 H80.70 M570.50 267.88 H565.10 M75.25 253.58 H78.60 M570.50 253.58 H567.20 M75.25 239.27 H78.60 M570.50 239.27 H567.20 M75.25 224.97 H78.60 M570.50 224.97 H567.20 M75.25 210.66 H80.70 M570.50 210.66 H565.10 M75.25 196.36 H78.60 M570.50 196.36 H567.20 M75.25 182.05 H78.60 M570.50 182.05 H567.20 M75.25 167.75 H78.60 M570.50 167.75 H567.20 M75.25 153.44 H80.70 M570.50 153.44 H565.10 M75.25 139.14 H78.60 M570.50 139.14 H567.20 M75.25 124.83 H78.60 M570.50 124.83 H567.20 M75.25 110.53 H78.60 M570.50 110.53 H567.20 M75.25 96.22 H80.70 M570.50 96.22 H565.10 M75.25 81.92 H78.60 M570.50 81.92 H567.20 M75.25 67.61 H78.60 M570.50 67.61 H567.20 M75.25 53.31 H78.60 M570.50 53.31 H567.20 M75.25 39.00 H80.70 M570.50 39.00 H565.10 M75.25 24.70 H78.60 M570.50 24.70 H567.20 M75.25 10.39 H78.60 M570.50 10.39 H567.20" stroke="#000" stroke-width="1.8" fill="none"/>
<text transform="translate(85.10 326.2) scale(0.915 1)" text-anchor="middle" class="m">0</text>
<text transform="translate(164.60 326.2) scale(0.915 1)" text-anchor="middle" class="m">5</text>
<text transform="translate(244.10 326.2) scale(0.915 1)" text-anchor="middle" class="m">10</text>
<text transform="translate(323.60 326.2) scale(0.915 1)" text-anchor="middle" class="m">15</text>
<text transform="translate(403.10 326.2) scale(0.915 1)" text-anchor="middle" class="m">20</text>
<text transform="translate(482.60 326.2) scale(0.915 1)" text-anchor="middle" class="m">25</text>
<text transform="translate(562.10 326.2) scale(0.915 1)" text-anchor="middle" class="m">30</text>
<text transform="translate(70.1 44.30) scale(0.915 1)" text-anchor="end" class="m">1.02</text>
<text transform="translate(70.1 101.52) scale(0.915 1)" text-anchor="end" class="m">1.00</text>
<text transform="translate(70.1 158.74) scale(0.915 1)" text-anchor="end" class="m">0.98</text>
<text transform="translate(70.1 215.96) scale(0.915 1)" text-anchor="end" class="m">0.96</text>
<text transform="translate(70.1 273.18) scale(0.915 1)" text-anchor="end" class="m">0.94</text>
<rect x="269.85" y="2.85" width="106.4" height="32.7" fill="none" stroke="#000" stroke-width="2.15"/>
<text transform="translate(277 24) scale(0.915 1)" class="m" style="font-size:14.9px" xml:space="preserve">q <tspan class="g">=</tspan> 0.5,<tspan class="g">α=</tspan>0</text>
<path d="M409.1 27.00 H467.2" stroke="#ff0000" stroke-width="2.65" stroke-dasharray="6.8 6" fill="none"/>
<text x="479.4" y="32.60" class="s">RN</text>
<path d="M408 57.50 H472" stroke="#ff8000" stroke-width="2.8" fill="none"/>
<text y="63.10" class="s"><tspan x="481" font-style="italic">β</tspan><tspan x="494.6" dy="1.7">=</tspan><tspan x="508.10" dy="-1.7">0.5</tspan></text>
<path d="M408 90.55 H472" stroke="#ffff00" stroke-width="2.8" fill="none"/>
<text y="95.60" class="s"><tspan x="481" font-style="italic">β</tspan><tspan x="494.6" dy="1.7">=</tspan><tspan x="517.28" dy="-1.7"></tspan></text><path transform="translate(504.99 95.60) scale(0.00806 -0.00806)" d="M1149 0H969V1147Q904 1085 798.5 1023Q693 961 609 930V1104Q760 1175 873 1276Q986 1377 1033 1472H1149Z" fill="#000"/>
<path d="M408 123.50 H472" stroke="#808080" stroke-width="2.8" fill="none"/>
<text y="128.60" class="s"><tspan x="481" font-style="italic">β</tspan><tspan x="494.6" dy="1.7">=</tspan><tspan x="517.28" dy="-1.7">.5</tspan></text><path transform="translate(504.99 128.60) scale(0.00806 -0.00806)" d="M1149 0H969V1147Q904 1085 798.5 1023Q693 961 609 930V1104Q760 1175 873 1276Q986 1377 1033 1472H1149Z" fill="#000"/>
<text x="323.5" y="357.1" text-anchor="middle" class="a">x<tspan class="g">=</tspan>r<tspan class="g">/</tspan>M</text>
<text transform="translate(21.7 165.3) rotate(-90)" text-anchor="middle" class="a" style="font-size:16.8px">y</text><text transform="translate(21.7 154.2) rotate(-90)" text-anchor="middle" class="a g" style="font-size:16.8px">=</text><text transform="translate(21.7 143.1) rotate(-90) scale(0.92 1.06)" text-anchor="middle" class="a" style="font-size:16.8px">E</text>
<text transform="translate(4 143) rotate(-90)" text-anchor="middle" style="font-family:'Liberation Sans',sans-serif;font-size:8px;fill:#777">~</text>
</svg>
</body></html>
